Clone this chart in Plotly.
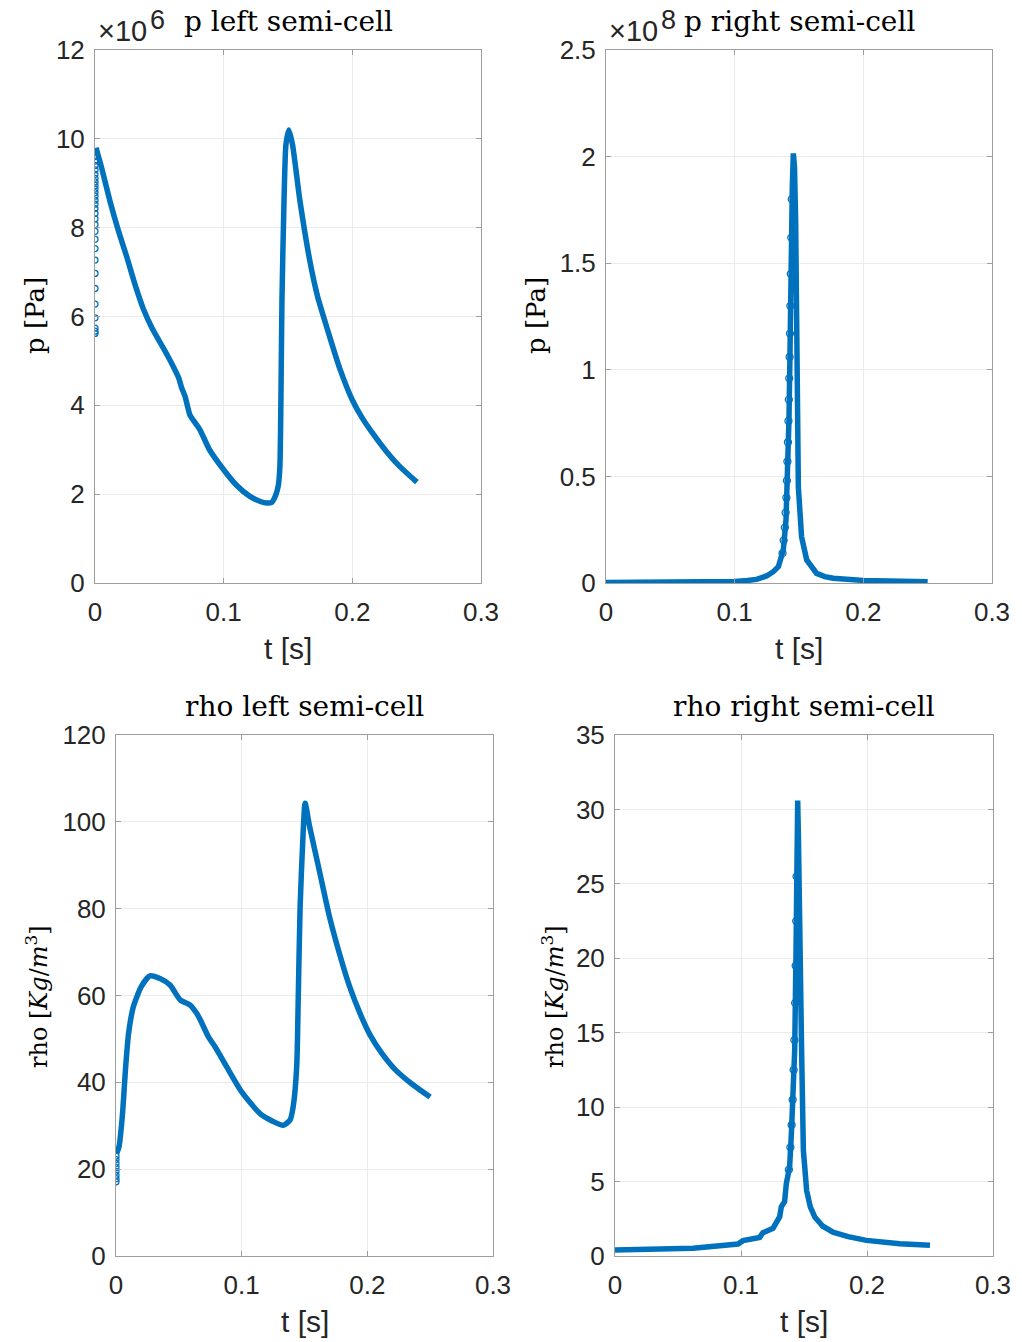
import plotly.graph_objects as go

# ---------------- data ----------------
# p left semi-cell, values in units of 1e6 Pa
t_pl = [0.0008, 0.0052, 0.0117, 0.0180, 0.0246, 0.0310, 0.0376, 0.0440, 0.0505, 0.0560,
        0.0609, 0.0650, 0.0673, 0.0700, 0.0738, 0.0780, 0.0816, 0.0890, 0.1000, 0.1100,
        0.1204, 0.1290, 0.1334, 0.1375, 0.1405, 0.1425, 0.1437, 0.1445, 0.1453, 0.1469,
        0.1484, 0.1507, 0.1535, 0.1593, 0.1670, 0.1730, 0.1800, 0.1900, 0.2000, 0.2080,
        0.2163, 0.2260, 0.2370, 0.2502]
p_left_e6 = [9.80, 9.34, 8.59, 7.95, 7.35, 6.73, 6.17, 5.76, 5.42, 5.14,
             4.87, 4.62, 4.40, 4.20, 3.78, 3.60, 3.45, 3.00, 2.55, 2.20,
             1.95, 1.83, 1.80, 1.82, 1.98, 2.20, 2.62, 4.12, 6.36, 8.60,
             9.87, 10.20, 9.87, 8.60, 7.25, 6.45, 5.77, 4.85, 4.12, 3.70,
             3.35, 2.98, 2.62, 2.27]
# isolated samples visible at t = 0
p_left_start_e6 = [5.62, 5.67, 5.74, 5.97, 6.28, 6.63, 6.97, 7.27, 7.53, 7.74, 7.92,
                   8.07, 8.20, 8.32, 8.43, 8.53, 8.62, 8.71, 8.79, 8.87, 8.95, 9.03,
                   9.11, 9.20, 9.30, 9.40, 9.50, 9.60, 9.70]

# p right semi-cell, values in units of 1e8 Pa
t_pr = [0.0, 0.05, 0.10, 0.11, 0.117, 0.1248, 0.130, 0.134, 0.1378, 0.1399, 0.1409,
        0.1422, 0.1430, 0.1437, 0.1448, 0.1456, 0.1465, 0.1474, 0.1482, 0.1495, 0.152,
        0.156, 0.1637, 0.170, 0.1766, 0.20, 0.25]
p_right_e8 = [0.002, 0.003, 0.007, 0.012, 0.017, 0.033, 0.053, 0.077, 0.155, 0.295, 0.45,
              0.765, 1.077, 1.55, 1.86, 2.015, 1.95, 1.70, 0.92, 0.45, 0.217,
              0.108, 0.045, 0.030, 0.022, 0.012, 0.006]
# visible open circles on the rising flank
t_pr_rise = [0.1372, 0.1381, 0.1390, 0.1396, 0.1402, 0.1406, 0.1410, 0.1414, 0.1418,
             0.1421, 0.1424, 0.1427, 0.1430, 0.1433, 0.1436, 0.1440, 0.1444]
p_right_rise_e8 = [0.14, 0.20, 0.26, 0.33, 0.40, 0.48, 0.57, 0.66, 0.76,
                   0.86, 0.96, 1.06, 1.17, 1.30, 1.45, 1.62, 1.80]

# rho left semi-cell [Kg/m^3]
t_rl = [0.0005, 0.0024, 0.0050, 0.0077, 0.0100, 0.0138, 0.0200, 0.0270, 0.0350, 0.0430,
        0.0510, 0.0590, 0.0642, 0.0669, 0.0735, 0.0788, 0.0880, 0.1000, 0.1146, 0.1250,
        0.1330, 0.1385, 0.1410, 0.1438, 0.1450, 0.1465, 0.1490, 0.1505, 0.1540, 0.1620,
        0.1700, 0.1800, 0.1860, 0.1940, 0.2020, 0.2120, 0.2220, 0.2360, 0.2500]
rho_left = [23.6, 25.2, 32.1, 43.6, 51.3, 57.4, 62.0, 64.5, 63.9, 62.4,
            59.0, 57.8, 55.9, 54.5, 50.5, 48.2, 43.6, 37.8, 32.8, 31.0,
            30.1, 31.3, 34.4, 43.6, 59.0, 80.4, 98.0, 104.3, 99.0, 88.5,
            78.0, 67.5, 62.0, 56.0, 51.0, 46.5, 43.0, 39.5, 36.6]
rho_left_start = [17.1, 17.8, 18.6, 19.5, 20.4, 21.3, 22.2, 23.0]

# rho right semi-cell [Kg/m^3]
t_rr = [0.0, 0.062, 0.0976, 0.1016, 0.1148, 0.1174, 0.1254, 0.1280, 0.1307, 0.1320,
        0.1346, 0.1360, 0.1386, 0.1400, 0.1413, 0.1426, 0.1436, 0.1443, 0.1450, 0.1456,
        0.1464, 0.1472, 0.1481, 0.1495, 0.1521, 0.1550, 0.1587, 0.1650, 0.1730, 0.1850,
        0.1995, 0.2260, 0.2500]
rho_right = [0.40, 0.52, 0.80, 1.03, 1.25, 1.56, 1.86, 2.30, 2.64, 3.31,
             3.65, 4.88, 6.00, 8.24, 10.5, 13.8, 20.0, 27.0, 30.6, 28.0,
             21.0, 17.0, 13.8, 7.1, 4.4, 3.3, 2.6, 2.0, 1.6, 1.3,
             1.05, 0.83, 0.72]
t_rr_rise = [0.1380, 0.1392, 0.1402, 0.1410, 0.1418, 0.1424, 0.1430, 0.1434, 0.1438, 0.1441]
rho_right_rise = [5.8, 7.3, 8.8, 10.5, 12.5, 14.5, 17.0, 19.5, 22.5, 25.5]

x_ticks = [0, 0.1, 0.2, 0.3]
x_tick_text = ["0", "0.1", "0.2", "0.3"]
pl_ticks = [0, 2, 4, 6, 8, 10, 12]
pr_ticks = [0, 0.5, 1, 1.5, 2, 2.5]
pr_tick_text = ["0", "0.5", "1", "1.5", "2", "2.5"]
rl_ticks = [0, 20, 40, 60, 80, 100, 120]
rr_ticks = [0, 5, 10, 15, 20, 25, 30, 35]

titles = ["p left semi-cell", "p right semi-cell", "rho left semi-cell", "rho right semi-cell"]
exponents = ["6", "8"]

# ---------------- styling ----------------
W, H = 1022, 1342
BLUE = "#0072BD"
LW = 5.5
AX = "#9e9e9e"
TXT = "#262626"
SANS = "Liberation Sans, Arial, Helvetica, sans-serif"
SERIF = "DejaVu Serif, Liberation Serif, serif"

def px(x):
    return x / W

def py(y):
    return 1 - y / H

# axes boxes in pixels (left, right, top, bottom)
boxes = [(95, 481, 50, 583), (606, 992, 50, 583), (116, 493, 735, 1256), (615, 993, 735, 1256)]

fig = go.Figure()

def ax_ids(i):
    return ("x" if i == 1 else f"x{i}"), ("y" if i == 1 else f"y{i}")

def line(t, v, i, shape):
    xa, ya = ax_ids(i)
    fig.add_trace(go.Scatter(x=t, y=v, mode="lines",
                             line=dict(color=BLUE, width=LW, shape=shape, smoothing=0.6),
                             xaxis=xa, yaxis=ya, showlegend=False, hoverinfo="skip"))

def dots(t, v, i, size=6):
    xa, ya = ax_ids(i)
    fig.add_trace(go.Scatter(x=t, y=v, mode="markers",
                             marker=dict(symbol="circle-open", color=BLUE, size=size,
                                         line=dict(width=1.3, color=BLUE)),
                             xaxis=xa, yaxis=ya, showlegend=False, hoverinfo="skip"))

line(t_pl, p_left_e6, 1, "spline")
dots([0.0] * len(p_left_start_e6), p_left_start_e6, 1)
line(t_pr, p_right_e8, 2, "linear")
dots(t_pr_rise, p_right_rise_e8, 2, size=7)
line(t_rl, rho_left, 3, "spline")
dots([0.0] * len(rho_left_start), rho_left_start, 3)
line(t_rr, rho_right, 4, "linear")
dots(t_rr_rise, rho_right_rise, 4, size=7)

yspecs = [(pl_ticks, [str(v) for v in pl_ticks], [0, 12]),
          (pr_ticks, pr_tick_text, [0, 2.5]),
          (rl_ticks, [str(v) for v in rl_ticks], [0, 120]),
          (rr_ticks, [str(v) for v in rr_ticks], [0, 35])]

layout = dict(width=W, height=H, autosize=False,
              margin=dict(l=0, r=0, t=0, b=0, pad=0, autoexpand=False),
              paper_bgcolor="white", plot_bgcolor="white", showlegend=False)

common = dict(showline=True, linecolor=AX, linewidth=1, mirror="ticks", ticks="inside",
              ticklen=5, tickcolor=AX, showgrid=True, gridcolor="#ebebeb", gridwidth=1,
              zeroline=False, automargin=False, tickfont=dict(family=SANS, size=26, color=TXT))

for i, (l, r, t, b) in enumerate(boxes, start=1):
    sx = "xaxis" if i == 1 else f"xaxis{i}"
    sy = "yaxis" if i == 1 else f"yaxis{i}"
    yt, ytt, yr = yspecs[i - 1]
    layout[sx] = dict(domain=[px(l), px(r)], range=[0, 0.3], tickvals=x_ticks, ticktext=x_tick_text,
                      anchor="y" if i == 1 else f"y{i}", ticklabelstandoff=6, **common)
    layout[sy] = dict(domain=[py(b), py(t)], range=yr, tickvals=yt, ticktext=ytt,
                      anchor="x" if i == 1 else f"x{i}", ticklabelstandoff=4, **common)

fig.update_layout(**layout)

ann = []
for i, (l, r, t, b) in enumerate(boxes):
    cx = (l + r) / 2
    ann.append(dict(text=titles[i], x=px(cx), y=py(t - 10), xref="paper", yref="paper",
                    xanchor="center", yanchor="bottom", showarrow=False,
                    font=dict(family=SERIF, size=28, color="black")))
    ann.append(dict(text="t [s]", x=px(cx), y=py(b + 65), xref="paper", yref="paper",
                    xanchor="center", yanchor="middle", showarrow=False,
                    font=dict(family=SANS, size=30, color=TXT)))

for i in range(2):
    l, r, t, b = boxes[i]
    ann.append(dict(text="×10", x=px(l + 1), y=py(t - 1), xref="paper", yref="paper",
                    xanchor="left", yanchor="bottom", showarrow=False,
                    font=dict(family=SANS, size=29, color=TXT)))
    ann.append(dict(text=exponents[i], x=px(l + 53), y=py(3), xref="paper", yref="paper",
                    xanchor="left", yanchor="top", showarrow=False,
                    font=dict(family=SANS, size=27, color=TXT)))

ylabels = [("p [Pa]", 35, 316, 26), ("p [Pa]", 536, 316, 26),
           ("rho [<i>Kg</i>/<i>m</i><sup>3</sup>]", 37, 997, 24),
           ("rho [<i>Kg</i>/<i>m</i><sup>3</sup>]", 553, 997, 24)]
for text, x, y, fs in ylabels:
    ann.append(dict(text=text, x=px(x), y=py(y), xref="paper", yref="paper",
                    xanchor="center", yanchor="middle", textangle=-90, showarrow=False,
                    font=dict(family=SERIF, size=fs, color="black")))

fig.update_layout(annotations=ann)
fig.write_html("out.html")
